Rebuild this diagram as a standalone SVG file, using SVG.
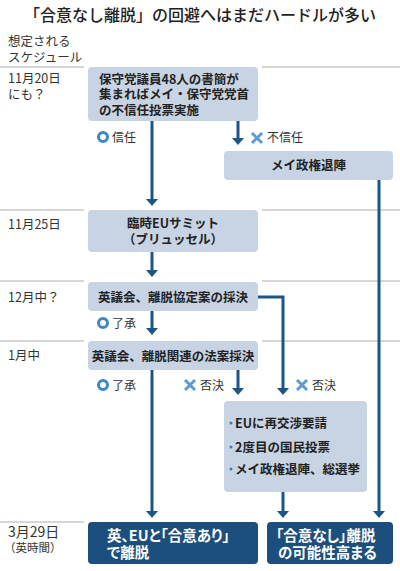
<svg xmlns="http://www.w3.org/2000/svg" width="400" height="571" viewBox="0 0 400 571">
<defs>
<style>
text{font-family:"Noto Sans CJK JP","Noto Sans CJK SC",sans-serif;fill:#333}
.title{font-size:16px;font-weight:500;fill:#222}
.lbl{font-size:12.5px}
.sm{font-size:12px}
.nt{font-size:12.5px;font-weight:700;fill:#222}
.bt{font-size:14.5px;font-weight:700;fill:#fff;font-feature-settings:"palt" 1}
.light{fill:#c8d4e4}
.dark{fill:#1d4f7e}
.grid{stroke:#c8c8c8;stroke-width:1.5}
.con{fill:none;stroke:#1c5688;stroke-width:3}
.ok{fill:none;stroke:#3f86c6;stroke-width:3}
.ng{stroke:#5b9ad2;stroke-width:3;stroke-linecap:butt}
</style>
<marker id="ah" viewBox="0 -6 7 12" refX="2" refY="0" markerWidth="7" markerHeight="12" markerUnits="userSpaceOnUse" orient="auto">
<path d="M0,-6 L7,0 L0,6 z" fill="#1c5688"/>
</marker>
</defs>
<rect width="400" height="571" fill="#fff"/>
<text class="title" x="200" y="21" text-anchor="middle">「合意なし離脱」の回避へはまだハードルが多い</text>

<g id="grid">
<line class="grid" x1="0" y1="67" x2="84" y2="67"/>
<line class="grid" x1="262" y1="67" x2="400" y2="67"/>
<line class="grid" x1="0" y1="210" x2="84" y2="210"/>
<line class="grid" x1="262" y1="210" x2="400" y2="210"/>
<line class="grid" x1="0" y1="281" x2="84" y2="281"/>
<line class="grid" x1="262" y1="281" x2="400" y2="281"/>
<line class="grid" x1="0" y1="341" x2="84" y2="341"/>
<line class="grid" x1="262" y1="341" x2="400" y2="341"/>
<line class="grid" x1="0" y1="522" x2="84" y2="522"/>
</g>

<g id="schedule">
<text class="lbl" x="8" y="46">想定される</text>
<text class="lbl" x="8" y="62">スケジュール</text>
<text class="lbl" x="8" y="83">11月20日</text>
<text class="lbl" x="8" y="99">にも？</text>
<text class="lbl" x="8" y="228.5">11月25日</text>
<text class="lbl" x="8" y="301.5">12月中？</text>
<text class="lbl" x="8" y="359.5">1月中</text>
<text x="8" y="537" style="font-size:14px">3月29日</text>
<text class="sm" x="4" y="552" style="font-size:11.5px">（英時間）</text>
</g>

<g id="connectors">
<line class="con" x1="152" y1="121" x2="152" y2="201" marker-end="url(#ah)"/>
<line class="con" x1="238" y1="121" x2="238" y2="140" marker-end="url(#ah)"/>
<line class="con" x1="152" y1="252" x2="152" y2="272" marker-end="url(#ah)"/>
<line class="con" x1="152" y1="311" x2="152" y2="330" marker-end="url(#ah)"/>
<line class="con" x1="152" y1="370" x2="152" y2="513" marker-end="url(#ah)"/>
<line class="con" x1="238" y1="370" x2="238" y2="390" marker-end="url(#ah)"/>
<path class="con" d="M258,297 H283 V390" marker-end="url(#ah)"/>
<line class="con" x1="283" y1="492" x2="283" y2="513" marker-end="url(#ah)"/>
<line class="con" x1="379" y1="180" x2="379" y2="513" marker-end="url(#ah)"/>
</g>

<g id="edge-labels">
<circle class="ok" cx="103" cy="137" r="4.5"/>
<text class="sm" x="112" y="141.5">信任</text>
<g class="ng"><line x1="252" y1="133" x2="262" y2="143"/><line x1="262" y1="133" x2="252" y2="143"/></g>
<text class="sm" x="267" y="142">不信任</text>
<circle class="ok" cx="103" cy="323" r="4.5"/>
<text class="sm" x="112" y="327.5">了承</text>
<circle class="ok" cx="103" cy="385" r="4.5"/>
<text class="sm" x="112" y="389.5">了承</text>
<g class="ng"><line x1="185" y1="380" x2="195" y2="390"/><line x1="195" y1="380" x2="185" y2="390"/></g>
<text class="sm" x="200" y="389.5">否決</text>
<g class="ng"><line x1="297" y1="380" x2="307" y2="390"/><line x1="307" y1="380" x2="297" y2="390"/></g>
<text class="sm" x="312" y="389.5">否決</text>
</g>

<g id="n-vote">
<rect class="light" x="88" y="67" width="170" height="54" rx="4"/>
<text class="nt" x="99" y="83.5">保守党議員48人の書簡が</text>
<text class="nt" x="99" y="99">集まればメイ・保守党党首</text>
<text class="nt" x="99" y="114.5">の不信任投票実施</text>
</g>

<g id="n-resign">
<rect class="light" x="224" y="151" width="169" height="29" rx="4"/>
<text class="nt" x="308.5" y="170" text-anchor="middle">メイ政権退陣</text>
</g>

<g id="n-summit">
<rect class="light" x="88" y="210" width="170" height="42" rx="4"/>
<text class="nt" x="173" y="227.5" text-anchor="middle">臨時EUサミット</text>
<text class="nt" x="173" y="243.5" text-anchor="middle">（ブリュッセル）</text>
</g>

<g id="n-deal">
<rect class="light" x="88" y="282" width="170" height="29" rx="4"/>
<text class="nt" x="173" y="301.5" text-anchor="middle">英議会、離脱協定案の採決</text>
</g>

<g id="n-law">
<rect class="light" x="88" y="341" width="170" height="29" rx="4"/>
<text class="nt" x="173" y="360.5" text-anchor="middle">英議会、離脱関連の法案採決</text>
</g>

<g id="n-options">
<rect class="light" x="224" y="401" width="143" height="91" rx="4"/>
<circle cx="231" cy="423" r="1.5" fill="#3a7ab5"/>
<text class="nt" x="235" y="427.5">EUに再交渉要請</text>
<circle cx="231" cy="447" r="1.5" fill="#3a7ab5"/>
<text class="nt" x="235" y="451.5">2度目の国民投票</text>
<circle cx="231" cy="469" r="1.5" fill="#3a7ab5"/>
<text class="nt" x="235" y="473.5">メイ政権退陣、総選挙</text>
</g>

<g id="n-deal-exit">
<rect class="dark" x="88" y="522" width="170" height="42" rx="4"/>
<text class="bt" x="107" y="540.5">英、EUと「合意あり」</text>
<text class="bt" x="107" y="557.5">で離脱</text>
</g>

<g id="n-nodeal-exit">
<rect class="dark" x="267" y="522" width="126" height="42" rx="4"/>
<text class="bt" x="276" y="540.5">「合意なし」離脱</text>
<text class="bt" x="278" y="557.5">の可能性高まる</text>
</g>
</svg>
